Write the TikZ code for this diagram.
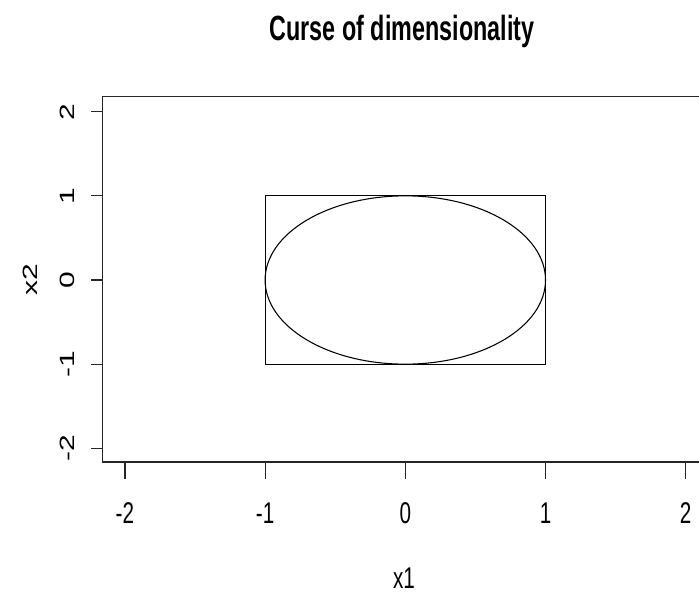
\documentclass[tikz,border=0pt]{standalone}
\usepackage{fontspec}
\setmainfont{Liberation Sans}
\begin{document}
\begin{tikzpicture}[x=0.75pt,y=-0.75pt,
  axisline/.style={line width=0.9pt,draw=black!85},
  curve/.style={line width=0.8pt,draw=black},
  xlab/.style={font=\fontsize{15.5pt}{17pt}\selectfont,inner sep=0pt},
  ylab/.style={font=\fontsize{15.5pt}{17pt}\selectfont,inner sep=0pt,rotate=90},
  ttl/.style={font=\fontsize{17.5pt}{20pt}\selectfont\bfseries,inner sep=0pt}]
\useasboundingbox (0,0) rectangle (699,596);
\clip (0,0) rectangle (699,596);
% frame
\coordinate (fTL) at (102.7,96.7);
\coordinate (fBL) at (102.7,462);
\coordinate (fTR) at (720,96.7);
\coordinate (fBR) at (720,462);
\draw[axisline] (fTR) -- (fTL) -- (fBL) -- (fBR);
% x ticks
\foreach \u/\t in {-2/-2,-1/-1,0/0,1/1,2/2}{
  \coordinate (xt\u) at ({405.3+140.2*\u},462);
  \draw[axisline] (xt\u) -- ++(0,17);
  \node[xlab] (xl\u) at ({405.3+140.2*\u},513) {\scalebox{1}[1.45]{\t}};
}
% y ticks
\foreach \v/\t in {-2/-2,-1/-1,0/0,1/1,2/2}{
  \coordinate (yt\v) at (102.7,{280-84.15*\v});
  \draw[axisline] (yt\v) -- ++(-12,0);
  \node[ylab] (yl\v) at (67.5,{280-84.15*\v}) {\scalebox{1.45}[1]{\t}};
}
% square and ellipse
\coordinate (sq1) at (265.1,195.85);
\coordinate (sq2) at (545.5,364.15);
\draw[curve] (sq1) rectangle (sq2);
\coordinate (c) at (405.3,280);
\draw[curve] (c) ellipse [x radius=140.2, y radius=84.15];
% labels
\node[ttl] (title) at (402,31) {\scalebox{1}[1.5]{Curse of dimensionality}};
\node[xlab] (xaxis) at (404,578) {\scalebox{1}[1.45]{x1}};
\node[ylab] (yaxis) at (30,280) {\scalebox{1.45}[1]{x2}};
\end{tikzpicture}
\end{document}
